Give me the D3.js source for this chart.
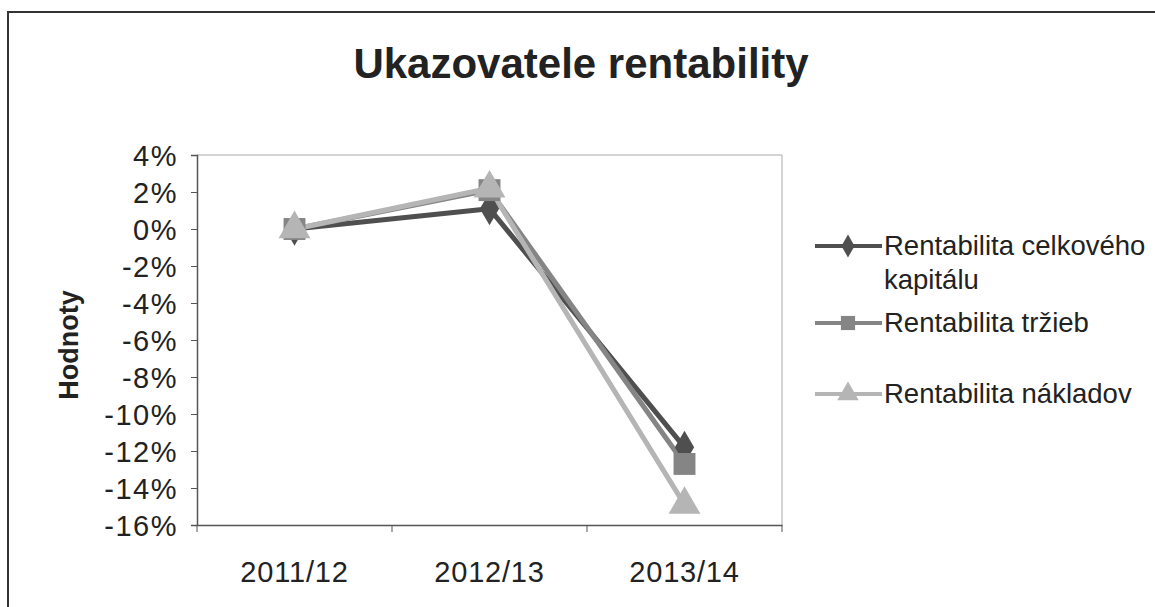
<!DOCTYPE html>
<html><head><meta charset="utf-8">
<script src="https://cdn.jsdelivr.net/npm/d3@7"></script>
<style>body{margin:0;background:#fff}svg{display:block}text{font-family:"Liberation Sans",Arial,sans-serif;fill:#222}</style>
</head><body>
<svg id="c" width="1155" height="607"></svg>
<script>
const categories = ["2011/12", "2012/13", "2013/14"];
const seriesNames = ["Rentabilita celkového kapitálu", "Rentabilita tržieb", "Rentabilita nákladov"];
const kapital = [0.0, 1.1, -11.8];
const trzby = [0.0, 2.1, -12.7];
const naklady = [0.0, 2.2, -14.9];
const yTicks = [4, 2, 0, -2, -4, -6, -8, -10, -12, -14, -16];

const series = [
  {name: seriesNames[0], values: kapital, color: "#4f4f4f", symbol: d3.symbolDiamond},
  {name: seriesNames[1], values: trzby, color: "#858585", symbol: d3.symbolSquare},
  {name: seriesNames[2], values: naklady, color: "#b5b5b5", symbol: d3.symbolTriangle}
];

const svg = d3.select("#c");
// outer frame
svg.append("path").attr("d", "M8,607 L8,12 L1155,12").attr("fill","none").attr("stroke","#333").attr("stroke-width",2);

const L = 197, R = 782, T = 155, B = 525;
const x = d3.scaleBand().domain(categories).range([L, R]);
const y = d3.scaleLinear().domain([-16, 4]).range([B, T]);

// plot border (top, right)
svg.append("path").attr("d", `M${L},${T} L${R},${T} L${R},${B}`).attr("fill","none").attr("stroke","#aaa").attr("stroke-width",1);

const yAxis = svg.append("g").attr("transform", `translate(${L},0)`)
  .call(d3.axisLeft(y).tickValues(yTicks).tickSize(6).tickPadding(13).tickFormat(d => d + "%"));
yAxis.select(".domain").attr("stroke","#555").attr("stroke-width",1.5);
yAxis.selectAll(".tick line").attr("stroke","#555");
yAxis.selectAll("text").attr("font-size", 29).attr("fill","#222").attr("dy","0.35em").attr("letter-spacing", 1.5);

const xAxis = svg.append("g").attr("transform", `translate(0,${B})`)
  .call(d3.axisBottom(x).tickSize(0).tickPadding(36));
xAxis.select(".domain").attr("stroke","#555").attr("stroke-width",1.5);
xAxis.selectAll("text").attr("font-size", 29).attr("fill","#222").attr("letter-spacing", 0.8);
// category boundary ticks
const bounds = [L].concat(categories.map(c => x(c) + x.bandwidth()));
xAxis.selectAll(".bt").data(bounds).enter().append("line")
  .attr("x1", d => d).attr("x2", d => d).attr("y1", 0).attr("y2", 7).attr("stroke","#555");

// title
svg.append("text").attr("x", 581).attr("y", 78).attr("text-anchor","middle")
  .attr("font-size", 42).attr("font-weight","bold").attr("fill","#222").text("Ukazovatele rentability");
// y title
svg.append("text").attr("transform", "translate(78,345) rotate(-90)").attr("text-anchor","middle")
  .attr("font-size", 27).attr("font-weight","bold").attr("fill","#222").text("Hodnoty");

const line = d3.line().x((d,i) => x(categories[i]) + x.bandwidth()/2).y(d => y(d));

series.forEach(s => {
  svg.append("path").datum(s.values).attr("d", line).attr("fill","none")
    .attr("stroke", s.color).attr("stroke-width", 5).attr("stroke-linejoin","round");
});
series.forEach(s => {
  svg.selectAll(null).data(s.values).enter().append("path")
    .attr("transform", (d,i) => `translate(${x(categories[i]) + x.bandwidth()/2},${y(d)})`)
    .attr("d", d3.symbol().type(s.symbol).size(s.symbol === d3.symbolTriangle ? 440 : (s.symbol === d3.symbolSquare ? 480 : 320)))
    .attr("fill", s.color);
});

// legend
const legendRows = [
  {s: series[0], y: 246, lines: ["Rentabilita celkového", "kapitálu"]},
  {s: series[1], y: 323, lines: ["Rentabilita tržieb"]},
  {s: series[2], y: 394, lines: ["Rentabilita nákladov"]}
];
legendRows.forEach(r => {
  const g = svg.append("g");
  g.append("line").attr("x1", 815).attr("x2", 882).attr("y1", r.y).attr("y2", r.y)
    .attr("stroke", r.s.color).attr("stroke-width", 4);
  g.append("path").attr("transform", `translate(848,${r.y})`)
    .attr("d", d3.symbol().type(r.s.symbol).size(r.s.symbol === d3.symbolDiamond ? 150 : 200)).attr("fill", r.s.color);
  r.lines.forEach((t, k) => {
    g.append("text").attr("x", 884).attr("y", r.y + 9 + k * 34).attr("font-size", 27.5).attr("fill","#222").text(t);
  });
});
</script>
</body></html>
